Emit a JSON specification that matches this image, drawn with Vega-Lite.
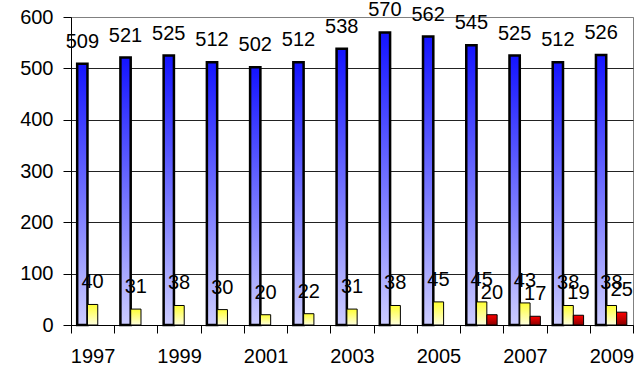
{
  "$schema": "https://vega.github.io/schema/vega-lite/v6.json",
  "width": 562,
  "height": 308,
  "autosize": {"type": "none"},
  "padding": {"left": 71, "top": 17, "right": 6, "bottom": 44},
  "background": "white",
  "config": {
    "view": {"stroke": "#808080", "strokeWidth": 1},
    "font": "Liberation Sans",
    "axis": {"labelFont": "Liberation Sans", "labelFontSize": 20, "labelColor": "#000", "domainColor": "#000", "tickColor": "#000", "title": null}
  },
  "data": {
    "values": [
      {"year": "1997", "s": "S1", "v": 509}, {"year": "1997", "s": "S2", "v": 40},
      {"year": "1998", "s": "S1", "v": 521}, {"year": "1998", "s": "S2", "v": 31},
      {"year": "1999", "s": "S1", "v": 525}, {"year": "1999", "s": "S2", "v": 38},
      {"year": "2000", "s": "S1", "v": 512}, {"year": "2000", "s": "S2", "v": 30},
      {"year": "2001", "s": "S1", "v": 502}, {"year": "2001", "s": "S2", "v": 20},
      {"year": "2002", "s": "S1", "v": 512}, {"year": "2002", "s": "S2", "v": 22},
      {"year": "2003", "s": "S1", "v": 538}, {"year": "2003", "s": "S2", "v": 31},
      {"year": "2004", "s": "S1", "v": 570}, {"year": "2004", "s": "S2", "v": 38},
      {"year": "2005", "s": "S1", "v": 562}, {"year": "2005", "s": "S2", "v": 45},
      {"year": "2006", "s": "S1", "v": 545}, {"year": "2006", "s": "S2", "v": 45}, {"year": "2006", "s": "S3", "v": 20},
      {"year": "2007", "s": "S1", "v": 525}, {"year": "2007", "s": "S2", "v": 43}, {"year": "2007", "s": "S3", "v": 17},
      {"year": "2008", "s": "S1", "v": 512}, {"year": "2008", "s": "S2", "v": 38}, {"year": "2008", "s": "S3", "v": 19},
      {"year": "2009", "s": "S1", "v": 526}, {"year": "2009", "s": "S2", "v": 38}, {"year": "2009", "s": "S3", "v": 25}
    ]
  },
  "encoding": {
    "x": {
      "field": "year", "type": "nominal",
      "scale": {"paddingInner": 0, "paddingOuter": 0},
      "axis": {
        "labelAngle": 0, "tickBand": "extent", "tickSize": 8, "labelPadding": 13, "grid": false,
        "labelExpr": "parseInt(datum.label) % 2 == 1 ? datum.label : ''"
      }
    },
    "xOffset": {
      "field": "s", "type": "nominal",
      "scale": {"domain": ["S1", "S2", "S3"], "paddingInner": 0, "paddingOuter": 0.6}
    },
    "y": {
      "field": "v", "type": "quantitative",
      "scale": {"domain": [0, 600], "nice": false},
      "axis": {
        "values": [0, 100, 200, 300, 400, 500, 600], "tickSize": 8, "labelPadding": 10,
        "grid": true, "gridColor": {"condition": {"test": "datum.value == 600", "value": "#808080"}, "value": "#222222"},
        "gridWidth": 1
      }
    }
  },
  "layer": [
    {
      "mark": {"type": "bar", "stroke": "#000"},
      "encoding": {
        "fill": {
          "condition": [
            {"test": "datum.s == 'S1'", "value": {"gradient": "linear", "x1": 0, "y1": 0, "x2": 0, "y2": 1, "stops": [{"offset": 0, "color": "#1414FF"}, {"offset": 1, "color": "#CCCCFF"}]}},
            {"test": "datum.s == 'S2'", "value": {"gradient": "linear", "x1": 0, "y1": 0, "x2": 0, "y2": 1, "stops": [{"offset": 0, "color": "#FFFF33"}, {"offset": 1, "color": "#FFFFE0"}]}}
          ],
          "value": {"gradient": "linear", "x1": 0, "y1": 0, "x2": 0, "y2": 1, "stops": [{"offset": 0, "color": "#FF0000"}, {"offset": 1, "color": "#8B0000"}]}
        },
        "strokeWidth": {"condition": {"test": "datum.s == 'S1'", "value": 2.5}, "value": 1}
      }
    },
    {
      "mark": {"type": "text", "align": "center", "baseline": "alphabetic", "dy": -16, "fontSize": 20, "font": "Liberation Sans", "color": "#000"},
      "encoding": {"text": {"field": "v", "type": "quantitative"}}
    }
  ]
}
